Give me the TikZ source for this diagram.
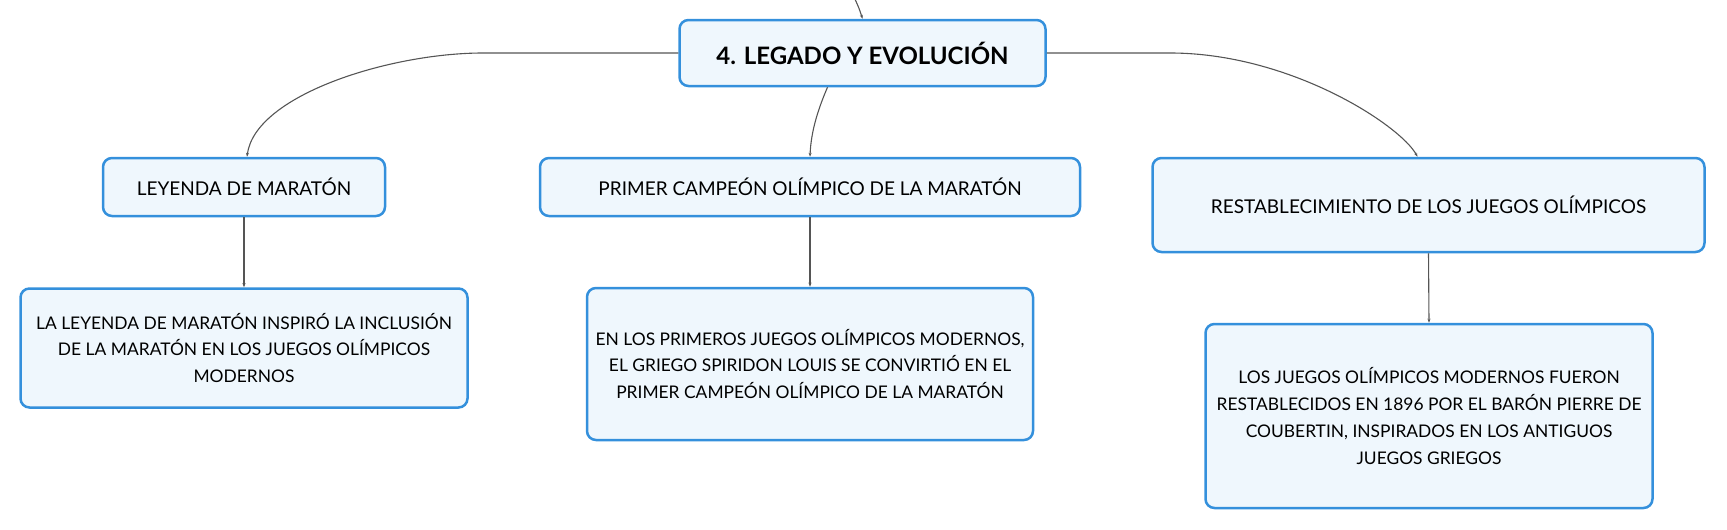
\documentclass[tikz,border=0pt]{standalone}
\usepackage{fontspec}
\setmainfont{Lato}
\usetikzlibrary{arrows.meta}
\definecolor{boxblue}{RGB}{52,144,220}
\definecolor{boxfill}{RGB}{239,247,253}
\definecolor{linkgray}{RGB}{85,85,85}
\tikzset{
  topic/.style = {draw = boxblue, fill = boxfill, line width = 2.5pt, rounded corners = 9pt,
                  align = center, inner sep = 0pt, font = \fontsize{19}{27}\selectfont},
  subtopic/.style = {topic, font = \fontsize{17.4}{26.8}\selectfont},
  maintopic/.style = {topic, font = \fontsize{24}{29}\selectfont\bfseries},
  link/.style = {draw = linkgray, line width = 1.1pt, -{Stealth[length = 4pt, width = 3pt]}}
}
\begin{document}
\begin{tikzpicture}[x = 1pt, y = -1pt]
  \useasboundingbox (0, 0) rectangle (1727, 530);
  \node [maintopic, minimum width = 366, minimum height = 66]  (legado)   at ( 862.5,  53) {4. LEGADO Y EVOLUCIÓN};
  \node [topic,     minimum width = 282, minimum height = 58]  (leyenda)  at ( 244,   187) {LEYENDA DE MARATÓN};
  \node [topic,     minimum width = 540, minimum height = 58]  (campeon)  at ( 810,   187) {PRIMER CAMPEÓN OLÍMPICO DE LA MARATÓN};
  \node [topic,     minimum width = 552, minimum height = 94]  (juegos)   at (1428.5, 205) {RESTABLECIMIENTO DE LOS JUEGOS OLÍMPICOS};
  \node [subtopic,  minimum width = 447, minimum height = 119] (leyendaT) at ( 244,   348)
    {LA LEYENDA DE MARATÓN INSPIRÓ LA INCLUSIÓN\\ DE LA MARATÓN EN LOS JUEGOS OLÍMPICOS\\ MODERNOS};
  \node [subtopic,  minimum width = 446, minimum height = 152] (campeonT) at ( 810,   364)
    {EN LOS PRIMEROS JUEGOS OLÍMPICOS MODERNOS,\\ EL GRIEGO SPIRIDON LOUIS SE CONVIRTIÓ EN EL\\ PRIMER CAMPEÓN OLÍMPICO DE LA MARATÓN};
  \node [subtopic,  minimum width = 447, minimum height = 184] (juegosT)  at (1429,   416)
    {LOS JUEGOS OLÍMPICOS MODERNOS FUERON\\ RESTABLECIDOS EN 1896 POR EL BARÓN PIERRE DE\\ COUBERTIN, INSPIRADOS EN LOS ANTIGUOS\\ JUEGOS GRIEGOS};
  \coordinate (arriba) at (854, -3);
  \draw [link] (arriba) .. controls (859, 8) .. (legado.north);
  \draw [link] (legado.west) -- (483, 53) .. controls (390, 53) and (255, 95) .. ([xshift = 3] leyenda.north);
  \draw [link] (legado.east) -- (1170, 53) .. controls (1290, 53) and (1400, 125) .. ([xshift = -11] juegos.north);
  \draw [link] ([xshift = -35] legado.south) .. controls (819, 107) and (811, 130) .. (campeon.north);
  \draw [link] (leyenda.south) -- (leyendaT.north);
  \draw [link] (campeon.south) -- (campeonT.north);
  \draw [link] (juegos.south)  -- (juegosT.north);
\end{tikzpicture}
\end{document}
